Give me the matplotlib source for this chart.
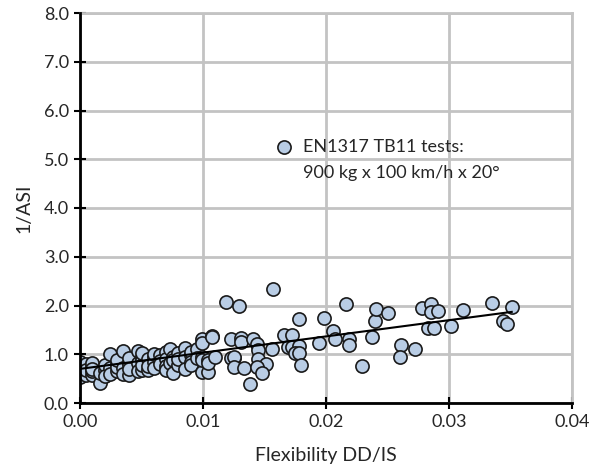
import matplotlib
matplotlib.use("Agg")
import matplotlib.pyplot as plt
import numpy as np

# ---- data ----
flex_left = [0.000, 0.000, 0.000, 0.000, 0.000, 0.000, 0.000,
             0.0005, 0.0005, 0.0005, 0.0005,
             0.001, 0.001, 0.001, 0.001, 0.001,
             0.0016, 0.0016,
             0.002, 0.002, 0.002,
             0.0024, 0.0024, 0.0024,
             0.003, 0.003, 0.003, 0.003,
             0.0035, 0.0035, 0.0035,
             0.004, 0.004, 0.004, 0.004, 0.004,
             0.0047, 0.0047, 0.0047,
             0.005, 0.005, 0.005, 0.005, 0.005,
             0.0055, 0.0055, 0.0055,
             0.006, 0.006, 0.006, 0.006,
             0.0065, 0.0065, 0.0065,
             0.007, 0.007, 0.007, 0.007,
             0.0073, 0.0073,
             0.0076, 0.0076, 0.0076,
             0.008, 0.008, 0.008,
             0.0085, 0.0085, 0.0085,
             0.009, 0.009, 0.009, 0.009,
             0.0095, 0.0095,
             0.0099, 0.0099, 0.0099, 0.0099, 0.0099,
             0.0104, 0.0104, 0.0104,
             0.0107, 0.0107, 0.0110]
asi_left = [0.53, 0.62, 0.70, 0.78, 0.84, 0.66, 0.74,
            0.72, 0.80, 0.58, 0.68,
            0.57, 0.65, 0.75, 0.82, 0.70,
            0.41, 0.62,
            0.68, 0.78, 0.56,
            1.00, 0.72, 0.60,
            0.65, 0.80, 0.74, 0.88,
            1.07, 0.72, 0.60,
            0.85, 0.78, 0.57, 0.92, 0.70,
            1.07, 0.82, 0.65,
            0.95, 0.88, 0.68, 0.78, 1.02,
            0.68, 0.90, 0.76,
            0.95, 0.84, 1.00, 0.72,
            0.98, 0.86, 0.80,
            1.05, 0.90, 0.75, 0.68,
            1.11, 0.82,
            0.62, 0.95, 0.88,
            1.02, 0.78, 0.90,
            1.13, 0.95, 0.70,
            0.98, 1.05, 0.85, 0.78,
            1.10, 0.92,
            1.31, 1.23, 0.95, 0.64, 0.88,
            0.88, 0.64, 0.82,
            1.37, 1.35, 0.94]

flex_mid = [0.0119, 0.0129, 0.0157, 0.0123, 0.0125, 0.0131, 0.0131,
            0.0141, 0.0144, 0.0145, 0.0123, 0.0125, 0.0125, 0.0133,
            0.0145, 0.0151, 0.0144, 0.0148, 0.0138, 0.0166, 0.0172,
            0.0156, 0.0169, 0.0172, 0.0178, 0.0175, 0.0178, 0.0180,
            0.0178, 0.0198, 0.0206, 0.0207, 0.0194]
asi_mid = [2.07, 2.00, 2.34, 1.31, 0.92, 1.33, 1.25,
           1.31, 1.21, 1.09, 0.92, 0.94, 0.74, 0.72,
           0.90, 0.80, 0.74, 0.62, 0.39, 1.39, 1.39,
           1.11, 1.15, 1.15, 1.17, 1.03, 1.03, 0.78,
           1.72, 1.74, 1.48, 1.31, 1.23]

flex_right = [0.0216, 0.0219, 0.0219, 0.0229, 0.0237, 0.0240, 0.0241,
              0.0250, 0.0261, 0.0272, 0.0260, 0.0278, 0.0285, 0.0285,
              0.0291, 0.0283, 0.0288, 0.0302, 0.0311, 0.0335, 0.0344,
              0.0347, 0.0351]
asi_right = [2.03, 1.31, 1.19, 0.76, 1.35, 1.68, 1.93,
             1.85, 1.19, 1.11, 0.94, 1.95, 2.03, 1.87,
             1.89, 1.54, 1.54, 1.58, 1.91, 2.05, 1.68,
             1.62, 1.97]

flexibility = flex_left + flex_mid + flex_right
inv_asi = asi_left + asi_mid + asi_right

trend_intercept = 0.70
trend_slope = 33.3
trend_x = [0.0, 0.0351]

x_ticks = [0.00, 0.01, 0.02, 0.03, 0.04]
y_ticks = [0.0, 1.0, 2.0, 3.0, 4.0, 5.0, 6.0, 7.0, 8.0]

legend_line1 = "EN1317 TB11 tests:"
legend_line2 = "900 kg x 100 km/h x 20°"

# ---- plot ----
plt.rcParams['font.family'] = ['Lato', 'DejaVu Sans']
fig = plt.figure(figsize=(5.89, 4.75), dpi=100)
ax = fig.add_axes([80/589, 72/475, 492/589, 390/475])

ax.set_xlim(0, 0.04)
ax.set_ylim(0, 8)
ax.set_xticks(x_ticks)
ax.set_yticks(y_ticks)
ax.set_xticklabels([f"{v:.2f}" for v in x_ticks])
ax.set_yticklabels([f"{v:.1f}" for v in y_ticks])

ax.grid(True, color="#c3c3c3", linewidth=2)
ax.set_axisbelow(True)
for s in ["top", "right"]:
    ax.spines[s].set_color("#c3c3c3")
    ax.spines[s].set_linewidth(2)
for s in ["left", "bottom"]:
    ax.spines[s].set_color("black")
    ax.spines[s].set_linewidth(2)
    ax.spines[s].set_zorder(5)

ax.tick_params(direction="inout", length=8, width=1.5, colors="black",
               labelsize=13, labelcolor="#262626", pad=4)

ax.scatter(flexibility, inv_asi, s=90, facecolor="#b9cde5",
           edgecolor="#1a1a1a", linewidth=1.2, zorder=3)

tx = np.array(trend_x)
ax.plot(tx, trend_intercept + trend_slope * tx, color="black", lw=1.5, zorder=4)

# legend
ax.scatter([0.01659], [5.25], s=90, facecolor="#b9cde5",
           edgecolor="#1a1a1a", linewidth=1.2, zorder=3, clip_on=False)
ax.text(0.01813, 5.25, legend_line1, fontsize=13, color="#262626",
        va="center", ha="left")
ax.text(0.01813, 4.72, legend_line2, fontsize=13, color="#262626",
        va="center", ha="left")

ax.set_xlabel("Flexibility DD/IS", fontsize=14, color="#262626", labelpad=12)
ax.set_ylabel("1/ASI", fontsize=14, color="#262626", labelpad=8)

fig.savefig("out.png", dpi=100)
